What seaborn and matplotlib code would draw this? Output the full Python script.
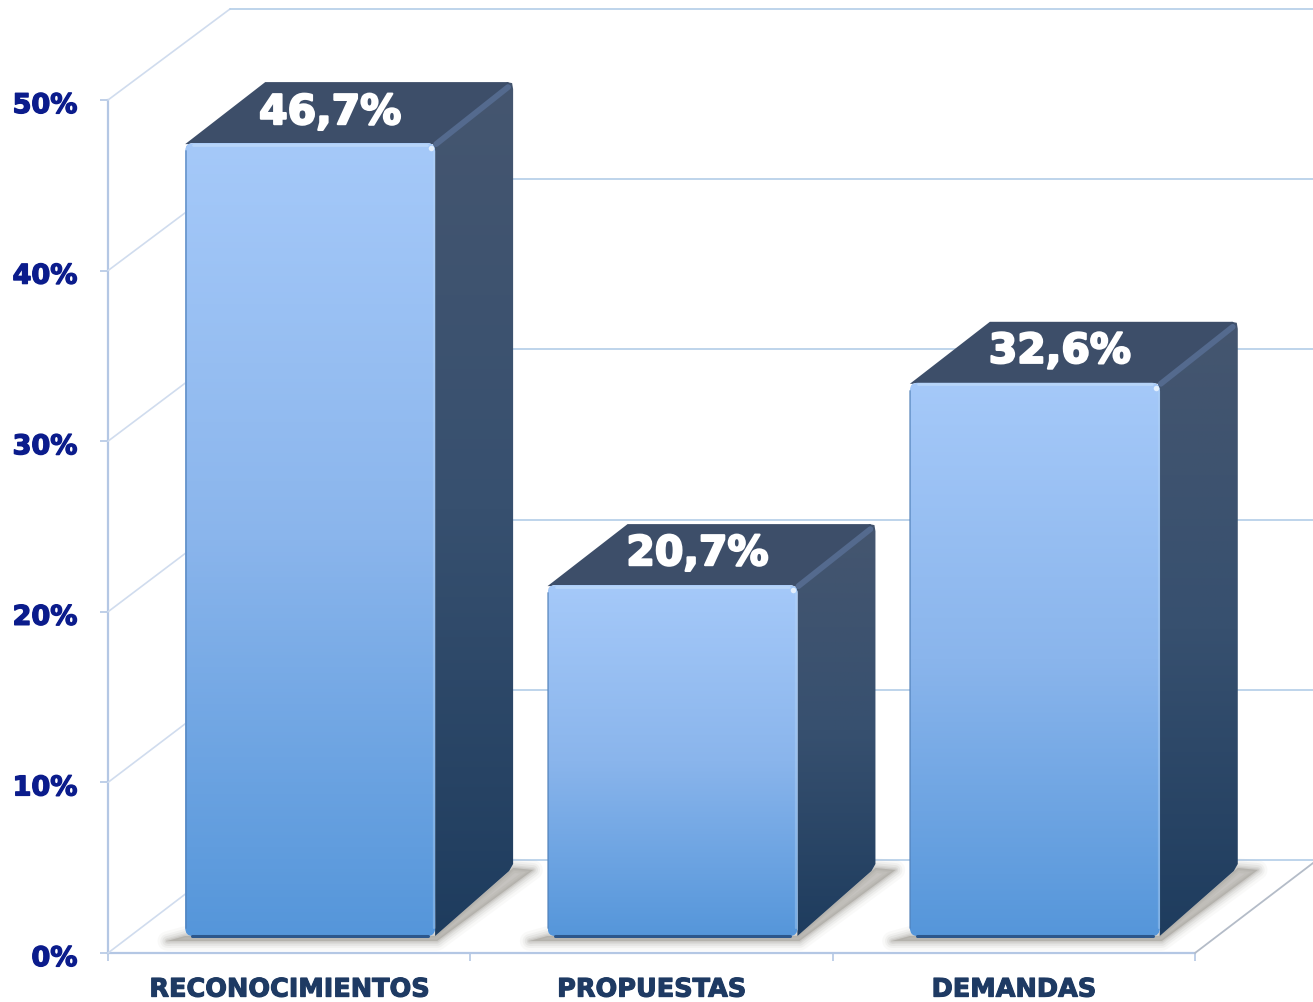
import numpy as np
import matplotlib
matplotlib.use("Agg")
import matplotlib.pyplot as plt
import matplotlib.patheffects as pe
from matplotlib.colors import LinearSegmentedColormap
from matplotlib.patches import FancyBboxPatch, Polygon
from matplotlib.transforms import ScaledTranslation
import seaborn as sns

categories = ["RECONOCIMIENTOS", "PROPUESTAS", "DEMANDAS"]
values = [46.7, 20.7, 32.6]
value_labels = ["46,7%", "20,7%", "32,6%"]
y_ticks = [0, 10, 20, 30, 40, 50]
y_tick_labels = ["0%", "10%", "20%", "30%", "40%", "50%"]

W, H = 1313, 1002
sns.set_style("white")
plt.rcParams["font.family"] = ["DejaVu Sans"]

fig = plt.figure(figsize=(W / 100, H / 100), dpi=100, facecolor="white")


def rect(x0, x1, ybot, ytop):
    return [x0 / W, 1 - ybot / H, (x1 - x0) / W, (ybot - ytop) / H]


# front plane: axis, ticks and labels
ax = fig.add_axes(rect(108, 1195, 953, 100), zorder=0)
ax.set_xlim(-0.5, 2.5)
ax.set_ylim(0, 50)
ax.patch.set_alpha(0)
sns.despine(ax=ax)
for s in ("left", "bottom"):
    ax.spines[s].set_color("#b4c7e4")
    ax.spines[s].set_linewidth(1.6)
ax.set_yticks(y_ticks, y_tick_labels, fontsize=19.5, fontweight="bold", color="#0b1c8c")
ax.tick_params(axis="y", length=6, width=1.2, color="#b4c7e4", pad=16, left=True)
ax.set_xticks([0, 1, 2], categories, fontsize=18.4, fontweight="bold", color="#1e3a63")
ax.tick_params(axis="x", which="major", length=0, pad=17)
ax.set_xticks([-0.5, 0.5, 1.5, 2.5], minor=True)
ax.tick_params(axis="x", which="minor", length=6, width=1.2, color="#b4c7e4", bottom=True)
shift = ScaledTranslation(0, -3 / 100, fig.dpi_scale_trans)
for t in ax.get_yticklabels():
    t.set_transform(t.get_transform() + shift)
    t.set_path_effects([pe.withStroke(linewidth=1.0, foreground="#0b1c8c")])
for t in ax.get_xticklabels():
    t.set_path_effects([pe.withStroke(linewidth=0.8, foreground="#1e3a63")])

# overlay in picture pixels: walls, shadows, side and top faces
ov = fig.add_axes([0, 0, 1, 1], zorder=1)
ov.set_xlim(0, W)
ov.set_ylim(H, 0)
ov.set_axis_off()

# bars
ax_b = fig.add_axes(rect(129, 1216, 937, 87), zorder=2)
sns.barplot(x=categories, y=values, ax=ax_b, color="#85b2ea", width=250 / 362.5,
            saturation=1, order=categories)
ax_b.set_xlim(-0.5, 2.5)
ax_b.set_ylim(0, 50)
ax_b.set_axis_off()
ax_b.patch.set_alpha(0)

fig.canvas.draw()


def to_px(a, x, y):
    dx, dy = a.transData.transform((x, y))
    return dx, H - dy


# walls from the y ticks
DX = 122
for t in y_ticks:
    _, yp = to_px(ax, 0, t)
    back = yp - 93 + 0.04 * t
    ov.plot([108, 108 + DX], [yp, back], color="#d0dcee", lw=1.2, zorder=1)
    ov.plot([108 + DX, W], [back, back], color="#b3cde8", lw=1.2, zorder=1)
ov.plot([1195, 1195 + DX], [953, 860], color="#b4bcc8", lw=1.3, zorder=1)

front_cmap = LinearSegmentedColormap.from_list("front", ["#a5c9f9", "#8ab5ec", "#5596da"])
side_cmap = LinearSegmentedColormap.from_list("side", ["#45566f", "#37506f", "#1e3c5e"])
grad = np.linspace(0, 1, 256).reshape(-1, 1)
dep_x, dep_y = 78, -60
label_shift = [20, 25, 25]
label_rise = [30, 31, 31]

for bar, lab, ls, lr in zip(ax_b.patches, value_labels, label_shift, label_rise):
    x0, y_top = to_px(ax_b, bar.get_x(), bar.get_height())
    x1, y_bot = to_px(ax_b, bar.get_x() + bar.get_width(), 0)
    y_bot -= 1
    back_bot = y_bot - 68

    # floor shadow, darker against the bar and fading outwards
    shadow = [(x0 - 18, y_bot + 5), (x1 + 2, y_bot + 5), (x1 + dep_x + 20, back_bot + 2),
              (x1 + dep_x, back_bot), (x1, y_bot), (x0, y_bot)]
    for lw, al in [(14, .06), (10, .09), (7, .13), (4, .17), (2, .22)]:
        ov.add_patch(Polygon(shadow, closed=True, fc="#a09d96", ec="#a09d96", alpha=al,
                             lw=lw, joinstyle="round", zorder=2))

    # side face
    side = Polygon([(x1 - 2, y_top), (x1 + dep_x - 6, y_top + dep_y - 1), (x1 + dep_x - 1, y_top + dep_y),
                    (x1 + dep_x, y_top + dep_y + 6), (x1 + dep_x, back_bot - 4),
                    (x1 + dep_x - 4, back_bot + 3), (x1, y_bot)],
                   closed=True, fc="none", ec="none", transform=ov.transData)
    ov.add_patch(side)
    im = ov.imshow(grad, cmap=side_cmap, aspect="auto", zorder=3,
                   extent=(x1 - 2, x1 + dep_x + 1, y_bot + 2, y_top + dep_y - 2))
    im.set_clip_path(side)

    # top face
    ov.add_patch(Polygon([(x0, y_top + 1), (x0 + 80, y_top + dep_y - 1), (x1 + dep_x - 5, y_top + dep_y - 1),
                          (x1 + dep_x - 1, y_top + dep_y + 4), (x1, y_top + 1)],
                         closed=True, fc="#3d4e69", ec="none", zorder=3.5))
    # lit diagonal edge
    ov.plot([x1 + 1, x1 + dep_x - 5], [y_top + 1, y_top + dep_y + 4], color="#546a8e",
            lw=4.2, solid_capstyle="round", zorder=3.6)

    # front face: the seaborn bar and its gradient share a rounded clip
    front = FancyBboxPatch((x0 + 5, y_top + 5), x1 - x0 - 10, y_bot - y_top - 10,
                           boxstyle="round,pad=5,rounding_size=8", fc="none", ec="none",
                           transform=ov.transData)
    ov.add_patch(front)
    bar.set_clip_path(front)
    img = ax_b.imshow(grad, cmap=front_cmap, aspect="auto", zorder=3,
                      extent=(bar.get_x(), bar.get_x() + bar.get_width(), 0, bar.get_height()))
    img.set_clip_path(front)
    # bevels
    fig.add_artist(plt.Line2D([x0 + 7, x1 - 7], [y_bot - 0.5, y_bot - 0.5], color="#2c578c", lw=2.2,
                              transform=ov.transData, zorder=4))
    fig.add_artist(plt.Line2D([x0 + 0.5, x0 + 0.5], [y_top + 8, y_bot - 8], color="#4f7fb8", lw=1.4, alpha=.6,
                              transform=ov.transData, zorder=4))
    fig.add_artist(plt.Line2D([x1 - 1, x1 - 1], [y_top + 8, y_bot - 8], color="#b9d8f7", lw=1.6, alpha=.35,
                              transform=ov.transData, zorder=4))
    fig.add_artist(plt.Line2D([x0 + 8, x1 - 8], [y_top + 1.5, y_top + 1.5], color="#c5def9", lw=2, alpha=.6,
                              transform=ov.transData, zorder=4))
    fig.add_artist(plt.Line2D([x1 - 4], [y_top + 5], marker="o", ms=4, color="#e3effc", mec="none",
                              transform=ov.transData, zorder=4))

    # value on the top face
    fig.text(((x0 + x1) / 2 + ls) / W, 1 - (y_top - lr) / H, lab, color="white", fontsize=29.5,
             fontweight="bold", ha="center", va="center", zorder=5,
             path_effects=[pe.withStroke(linewidth=1.6, foreground="white")])

ov.set_xlim(0, W)
ov.set_ylim(H, 0)
ax_b.set_xlim(-0.5, 2.5)
ax_b.set_ylim(0, 50)

fig.savefig("out.png", dpi=100, facecolor="white")
